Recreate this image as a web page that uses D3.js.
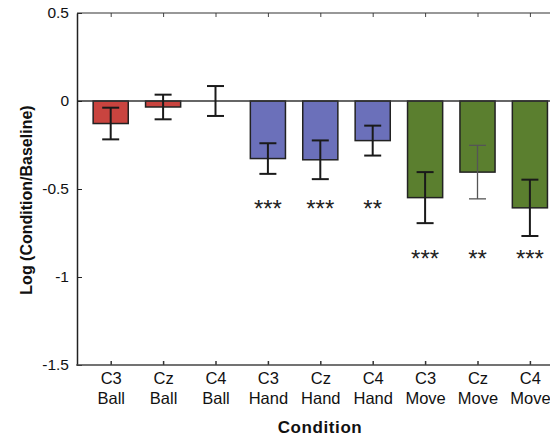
<!DOCTYPE html>
<html>
<head>
<meta charset="utf-8">
<script src="https://cdn.jsdelivr.net/npm/d3@7"></script>
<style>
  body { margin: 0; background: #fff; }
  svg { font-family: "Liberation Sans", Arial, sans-serif; }
  .bar { stroke: #222; stroke-width: 1.5; }
</style>
</head>
<body>
<div id="chart"></div>
<script>
// data
var sites = ["C3", "Cz", "C4", "C3", "Cz", "C4", "C3", "Cz", "C4"];
var tasks = ["Ball", "Ball", "Ball", "Hand", "Hand", "Hand", "Move", "Move", "Move"];
var means = [-0.128, -0.034, 0.0, -0.327, -0.334, -0.225, -0.549, -0.404, -0.607];
var errors = [0.09, 0.07, 0.085, 0.087, 0.11, 0.085, 0.145, 0.152, 0.16];
var stars = ["", "", "", "***", "***", "**", "***", "**", "***"];
var yTicks = [0.5, 0, -0.5, -1, -1.5];
var taskColors = { Ball: "#c9443f", Hand: "#6b70ba", Move: "#5b7f2f" };

var width = 550, height = 436;
var pad = { top: 13, left: 77, bottom: 71 };

var svg = d3.select("#chart").append("svg")
  .attr("width", width)
  .attr("height", height);

var idx = d3.range(sites.length);

var y = d3.scaleLinear()
  .domain([-1.5, 0.5])
  .range([height - pad.bottom, pad.top]);

var x = d3.scaleBand()
  .domain(idx)
  .range([84.5, 84.5 + 9 * 52.4])
  .paddingInner(0.33)
  .paddingOuter(0.165);

var cx = function(i) { return x(i) + x.bandwidth() / 2; };

// bars
svg.selectAll("rect.bar")
  .data(idx)
  .enter().append("rect")
  .attr("class", "bar")
  .attr("x", function(i) { return x(i); })
  .attr("width", x.bandwidth())
  .attr("y", function(i) { return y(Math.max(0, means[i])); })
  .attr("height", function(i) { return Math.abs(y(means[i]) - y(0)); })
  .attr("fill", function(i) { return taskColors[tasks[i]]; });

// zero line
svg.append("line")
  .attr("x1", pad.left).attr("x2", width)
  .attr("y1", y(0)).attr("y2", y(0))
  .attr("stroke", "#333").attr("stroke-width", 1.5);

// error bars
var err = svg.selectAll("g.errbar")
  .data(idx)
  .enter().append("g")
  .attr("class", "errbar");

// the Cz move bar is drawn thinner and grey in the original
var errStroke = function(i) { return i === 7 ? "#555" : "#1a1a1a"; };
var errWidth = function(i) { return i === 7 ? 1.3 : 2; };

err.append("line")
  .attr("x1", cx).attr("x2", cx)
  .attr("y1", function(i) { return y(means[i] + errors[i]); })
  .attr("y2", function(i) { return y(means[i] - errors[i]); })
  .attr("stroke", errStroke).attr("stroke-width", errWidth);

[1, -1].forEach(function(sign) {
  err.append("line")
    .attr("x1", function(i) { return cx(i) - 8.5; })
    .attr("x2", function(i) { return cx(i) + 8.5; })
    .attr("y1", function(i) { return y(means[i] + sign * errors[i]); })
    .attr("y2", function(i) { return y(means[i] + sign * errors[i]); })
    .attr("stroke", errStroke).attr("stroke-width", errWidth);
});

// significance stars
svg.selectAll("text.star")
  .data(idx.filter(function(i) { return stars[i]; }))
  .enter().append("text")
  .attr("class", "star")
  .attr("x", cx)
  .attr("y", function(i) { return tasks[i] === "Move" ? 267 : 217; })
  .attr("text-anchor", "middle")
  .attr("font-size", 24)
  .attr("fill", "#222")
  .text(function(i) { return stars[i]; });

// axes
var yAxis = d3.axisLeft(y).tickValues(yTicks).tickSizeInner(-5).tickSizeOuter(0)
  .tickPadding(8)
  .tickFormat(function(d) { return d === 0 ? "0" : d; });
var gy = svg.append("g")
  .attr("transform", "translate(" + pad.left + ",0)")
  .call(yAxis);
gy.select(".domain").attr("stroke", "#222").attr("stroke-width", 1.5);
gy.selectAll(".tick line").attr("stroke", "#222");
gy.selectAll("text").attr("font-size", 15.5).attr("fill", "#111");

var xPos = d3.scalePoint().domain(idx).range([cx(0), cx(8)]);

var gTop = svg.append("g")
  .attr("transform", "translate(0," + y(0.5) + ")")
  .call(d3.axisTop(xPos).tickSizeInner(-4).tickSizeOuter(0).tickFormat(""));
gTop.select(".domain").remove();
gTop.selectAll(".tick line").attr("stroke", "#444");
svg.append("line")
  .attr("x1", pad.left).attr("x2", width)
  .attr("y1", y(0.5)).attr("y2", y(0.5))
  .attr("stroke", "#333").attr("stroke-width", 1.2);

var gx = svg.append("g")
  .attr("transform", "translate(0," + y(-1.5) + ")")
  .call(d3.axisBottom(xPos).tickSizeInner(-4).tickSizeOuter(0).tickFormat(""));
gx.select(".domain").remove();
gx.selectAll(".tick line").attr("stroke", "#333").attr("stroke-width", 1.5);
svg.append("line")
  .attr("x1", pad.left - 0.75).attr("x2", width)
  .attr("y1", y(-1.5)).attr("y2", y(-1.5))
  .attr("stroke", "#444").attr("stroke-width", 1.3);

var lab = gx.selectAll(".tick").append("text")
  .attr("fill", "#111")
  .attr("font-size", 16.5)
  .attr("text-anchor", "middle");
lab.append("tspan").attr("x", 0).attr("y", 19).text(function(i) { return sites[i]; });
lab.append("tspan").attr("x", 0).attr("y", 39).text(function(i) { return tasks[i]; });

// titles
svg.append("text")
  .attr("x", 320).attr("y", 433)
  .attr("text-anchor", "middle")
  .attr("font-size", 17).attr("font-weight", "bold")
  .attr("letter-spacing", 0.6)
  .attr("fill", "#111")
  .text("Condition");

svg.append("text")
  .attr("transform", "translate(32,200) rotate(-90)")
  .attr("text-anchor", "middle")
  .attr("font-size", 16).attr("font-weight", "bold")
  .attr("fill", "#111")
  .text("Log (Condition/Baseline)");
</script>
</body>
</html>
